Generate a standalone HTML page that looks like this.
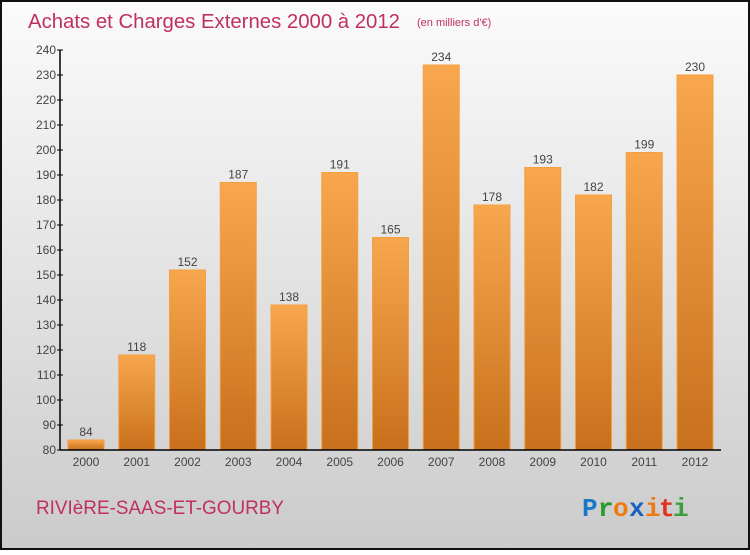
<!DOCTYPE html>
<html><head><meta charset="utf-8"><style>
body{margin:0;width:750px;height:550px;overflow:hidden;font-family:"Liberation Sans",sans-serif}
</style></head><body>
<svg id="chart" width="750" height="550" xmlns="http://www.w3.org/2000/svg">
<defs>
<linearGradient id="bg" x1="0" y1="0" x2="0" y2="1"><stop offset="0" stop-color="#fbfbfb"/><stop offset="1" stop-color="#cbcbcb"/></linearGradient>
<linearGradient id="bar" x1="0" y1="0" x2="0" y2="1"><stop offset="0" stop-color="#f8a74e"/><stop offset="1" stop-color="#c8701c"/></linearGradient>
</defs>
<rect x="1" y="1" width="748" height="548" fill="url(#bg)" stroke="#111" stroke-width="2"/>
<text x="28" y="28" font-size="20" fill="#c0305e" textLength="372" lengthAdjust="spacingAndGlyphs">Achats et Charges Externes 2000 à 2012</text>
<text x="417" y="26" font-size="11" fill="#c0305e">(en milliers d'€)</text>
<g id="bars"></g>
<g id="axes"></g>
<text x="36" y="514" font-size="19" fill="#c0305e" textLength="248" lengthAdjust="spacingAndGlyphs">RIVIèRE-SAAS-ET-GOURBY</text>
<g font-size="26" font-family="'Liberation Mono',monospace" font-weight="bold">
<text x="582" y="516" fill="#1a78c8">P</text><text x="598" y="516" fill="#2a9a2a">r</text><text x="613" y="516" fill="#f07a10">o</text><text x="629" y="516" fill="#1a60c0">x</text><text x="645" y="516" fill="#f07a10">i</text><text x="659" y="516" fill="#e03020">t</text><text x="673" y="516" fill="#3aa03a">i</text>
</g>
</svg>
<script>
const categories=["2000","2001","2002","2003","2004","2005","2006","2007","2008","2009","2010","2011","2012"];
const values=[84,118,152,187,138,191,165,234,178,193,182,199,230];
const yTicks=[80,90,100,110,120,130,140,150,160,170,180,190,200,210,220,230,240];
const NS="http://www.w3.org/2000/svg";
const y=v=>450-(v-80)*2.5;
const x=i=>68+i*50.75;
const bw=36;
function el(t,a,p){const e=document.createElementNS(NS,t);for(const k in a)e.setAttribute(k,a[k]);p.appendChild(e);return e;}
const bars=document.getElementById('bars'),axes=document.getElementById('axes');
values.forEach((v,i)=>{
 const r=el('rect',{x:x(i),y:y(v),width:bw,height:450-y(v),fill:'url(#bar)',stroke:'#f5a040','stroke-width':1},bars);
 
 
 const t=el('text',{x:x(i)+bw/2,y:y(v)-4,'font-size':12,'text-anchor':'middle',fill:'#444'},bars);
 t.textContent=v;
 
 
 const c=el('text',{x:x(i)+bw/2,y:466,'font-size':12,'text-anchor':'middle',fill:'#444'},axes);
 c.textContent=categories[i];
 
 
});
const ya=el('line',{x1:60,y1:50,x2:60,y2:450,stroke:'#000','stroke-width':1.5},axes);


const xa=el('line',{x1:60,y1:450,x2:721,y2:450,stroke:'#000','stroke-width':1.5},axes);


yTicks.forEach(v=>{
 el('line',{x1:57,y1:y(v),x2:63,y2:y(v),stroke:'#000'},axes);
 const t=el('text',{x:56,y:y(v)+4,'font-size':12,'text-anchor':'end',fill:'#444'},axes);
 t.textContent=v;
 
 
});
</script>
</body></html>
